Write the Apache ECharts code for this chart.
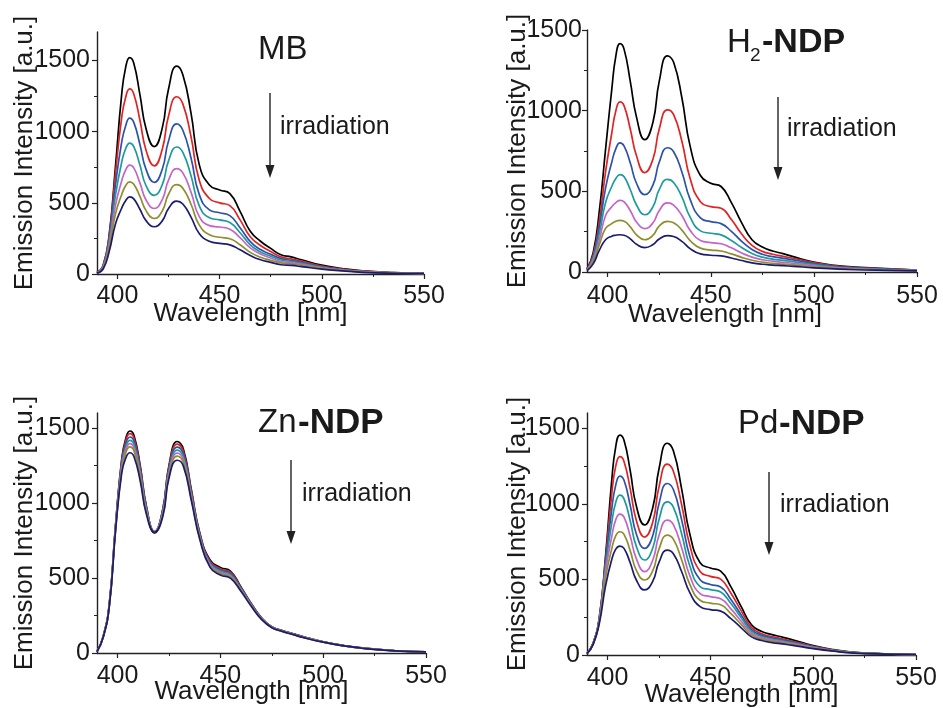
<!DOCTYPE html>
<html><head><meta charset="utf-8">
<script src="https://cdn.jsdelivr.net/npm/echarts@6/dist/echarts.min.js"></script>
<style>html,body{margin:0;padding:0;background:#fff}#c{width:943px;height:708px}</style>
</head><body><div id="c"></div><script>
// ---- data ----
const wavelength = [390,393,396,399,402,404,406,408,411,414,418,422,425,429,432,436,440,445,450,455,460,465,470,475,480,485,490,500,510,520,535,550];
const xTicks = [400,450,500,550];
const xMinorTicks = [425,475,525];
const yTicks = [0,500,1000,1500];
const yMinorTicks = [250,750,1250];
const curveNames = ['0','1','2','3','4','5','6'];

// MB
const mbBlack   = [10,60,280,750,1250,1450,1520,1480,1260,1020,895,1030,1300,1460,1400,1130,770,625,590,565,440,300,230,180,135,120,100,62,38,22,10,4];
const mbRed     = [10,60,270,700,1090,1240,1300,1265,1080,870,760,880,1110,1245,1195,965,660,530,500,480,380,262,200,158,120,106,90,56,34,20,9,4];
const mbBlue    = [9,55,250,620,920,1040,1095,1065,910,735,643,740,935,1055,1010,815,560,450,430,410,325,228,172,138,108,96,82,51,31,18,8,3];
const mbTeal    = [8,50,230,550,780,880,920,895,765,620,553,630,795,892,855,690,480,395,380,362,290,205,155,125,98,88,75,47,29,17,8,3];
const mbMagenta = [8,45,210,480,650,730,765,745,640,520,460,525,660,740,710,575,405,340,330,315,255,183,140,112,88,80,68,44,27,16,7,3];
const mbOlive   = [7,40,190,420,555,620,647,630,545,445,390,445,560,628,603,490,345,275,258,248,205,152,118,96,78,71,61,40,25,14,6,2];
const mbNavy    = [6,35,160,350,460,515,542,528,455,375,332,375,460,512,492,400,285,230,215,205,170,130,100,82,65,60,52,34,22,12,5,2];

// H2-NDP
const h2Black   = [20,120,380,760,1130,1340,1415,1380,1180,960,820,930,1180,1340,1300,1080,780,598,550,530,430,305,200,155,130,114,95,62,41,31,21,12];
const h2Red     = [18,105,320,620,860,1000,1055,1030,885,720,616,700,885,1005,975,810,580,435,405,395,325,235,165,128,110,97,85,58,38,28,19,12];
const h2Blue    = [16,95,280,520,680,765,800,780,675,550,479,540,680,770,745,620,450,335,312,300,252,190,140,110,95,85,75,52,35,26,18,11];
const h2Teal    = [14,85,240,430,530,580,603,590,510,415,355,405,510,574,555,465,340,255,240,230,195,152,115,92,80,72,64,46,31,23,16,10];
const h2Magenta = [12,75,200,350,405,430,444,435,380,310,269,305,380,428,415,350,258,195,182,175,150,118,92,76,67,60,54,39,27,20,14,9];
const h2Olive   = [10,65,170,270,300,315,320,315,280,230,200,228,285,314,305,260,195,148,136,130,112,91,73,61,54,49,44,32,23,17,12,8];
const h2Navy    = [8,50,135,200,222,228,231,228,205,172,151,170,205,225,220,190,145,112,104,100,87,71,57,48,43,39,35,26,19,14,10,7];

// Zn-NDP
const znBlack   = [10,110,330,850,1290,1430,1480,1450,1250,980,800,960,1250,1410,1360,1080,800,620,570,545,440,330,235,175,150,130,110,75,50,32,15,7];
const znRed     = [10,110,330,845,1280,1415,1462,1432,1238,975,805,955,1240,1392,1344,1070,795,612,562,537,436,328,234,174,149,129,109,75,50,32,15,7];
const znBlue    = [10,108,325,840,1265,1395,1440,1412,1222,968,808,948,1226,1372,1326,1058,788,604,554,529,432,325,232,173,148,128,108,74,49,31,15,7];
const znTeal    = [10,107,322,832,1248,1375,1418,1390,1205,958,810,940,1212,1352,1308,1046,781,596,546,521,427,322,230,172,147,127,107,74,49,31,15,7];
const znMagenta = [10,106,318,825,1232,1355,1396,1368,1188,948,812,932,1198,1332,1290,1034,774,588,538,513,422,319,228,171,146,126,106,73,48,31,15,7];
const znOlive   = [9,105,315,818,1215,1335,1374,1346,1170,938,810,922,1183,1312,1271,1022,766,580,530,505,417,316,226,170,145,125,105,73,48,30,14,7];
const znNavy    = [9,104,312,810,1198,1300,1335,1308,1148,926,805,910,1166,1285,1246,1008,757,571,520,497,411,312,224,169,144,124,104,72,48,30,14,7];

// Pd-NDP
const pdBlack   = [10,80,250,650,1150,1380,1454,1420,1220,985,860,975,1230,1400,1350,1100,800,610,575,555,450,320,200,155,135,118,100,62,35,18,8,3];
const pdRed     = [10,78,245,630,1060,1250,1311,1280,1100,890,780,880,1110,1262,1215,995,725,552,520,502,408,292,183,140,122,107,91,58,33,17,8,3];
const pdBlue    = [10,76,240,605,960,1125,1183,1155,990,800,705,790,1000,1134,1094,895,652,497,466,450,367,265,168,130,113,99,85,55,31,16,7,3];
const pdTeal    = [10,75,235,580,870,1010,1057,1032,888,718,628,708,895,1013,978,802,588,452,432,416,340,246,158,122,106,93,80,52,30,16,7,3];
const pdMagenta = [9,73,228,550,780,895,932,912,787,637,551,628,790,892,862,710,525,406,386,372,305,223,145,113,99,87,75,49,28,15,7,3];
const pdOlive   = [9,72,220,510,700,790,815,798,690,560,496,558,700,793,766,630,467,362,343,332,273,202,133,105,92,81,70,46,27,14,6,3];
const pdNavy    = [9,70,210,455,630,700,720,705,610,496,430,488,612,694,670,552,412,320,300,290,240,180,120,96,82,73,64,42,25,13,6,3];

const panelSeries = [
  [mbBlack, mbRed, mbBlue, mbTeal, mbMagenta, mbOlive, mbNavy],
  [h2Black, h2Red, h2Blue, h2Teal, h2Magenta, h2Olive, h2Navy],
  [znBlack, znRed, znBlue, znTeal, znMagenta, znOlive, znNavy],
  [pdBlack, pdRed, pdBlue, pdTeal, pdMagenta, pdOlive, pdNavy]
];
const yMax = [1700, 1500, 1600, 1600];

// ---- style / layout ----
const colors = ['#000000','#e02424','#2d52aa','#1e9a9c','#c464c8','#8e8e2c','#1c1c6e'];
const FONT = '"Liberation Sans", Arial, Helvetica, sans-serif';
const TXT = '#1a1a1a';
const AX = '#222';
const rects = [
  {left:97, top:32, width:327, height:242, xGap:27, xShift:10, yGap:59, yMargin:7, xMargin:10},
  {left:587, top:30, width:330, height:242, xGap:30, xShift:27, yGap:56, yMargin:5, xMargin:12},
  {left:97, top:413, width:329, height:240, xGap:26, xShift:10, yGap:59, yMargin:7, xMargin:11},
  {left:587, top:413, width:329, height:242, xGap:27, xShift:10, yGap:56, yMargin:7, xMargin:11}
];
const plain = v => String(v);

const grid = [], xAxis = [], yAxis = [], series = [];
rects.forEach(r => grid.push({left:r.left, top:r.top, width:r.width, height:r.height, containLabel:false, outerBoundsMode:'none'}));
rects.forEach(r => grid.push({left:r.left, top:r.top, width:r.width, height:r.height, containLabel:false, outerBoundsMode:'none'}));
rects.forEach((r, i) => {
  xAxis.push({
    type:'value', gridIndex:i, min:390, max:550,
    axisLine:{show:true, onZero:false, lineStyle:{color:AX, width:1.4}},
    axisTick:{show:true, customValues:xTicks, length:5, lineStyle:{color:AX, width:1.2}},
    axisLabel:{show:true, customValues:xTicks, formatter:plain, margin:r.xMargin, fontSize:25, color:TXT, fontFamily:FONT},
    splitLine:{show:false},
    name:'Wavelength [nm]', nameLocation:'middle', nameGap:r.xGap, nameMoveOverlap:false,
    nameTextStyle:{fontSize:26, color:TXT, fontFamily:FONT, padding:[0, r.xShift*2, 0, 0]}
  });
  yAxis.push({
    type:'value', gridIndex:i, min:0, max:yMax[i],
    axisLine:{show:true, onZero:false, lineStyle:{color:AX, width:1.4}},
    axisTick:{show:true, customValues:yTicks, length:5, lineStyle:{color:AX, width:1.2}},
    axisLabel:{show:true, customValues:yTicks, formatter:plain, margin:r.yMargin, fontSize:25, color:TXT, fontFamily:FONT},
    splitLine:{show:false},
    name:'Emission Intensity [a.u.]', nameLocation:'middle', nameGap:r.yGap, nameMoveOverlap:false,
    nameTextStyle:{fontSize:26, color:TXT, fontFamily:FONT}
  });
});
rects.forEach((r, i) => {
  xAxis.push({
    type:'value', gridIndex:i+4, min:390, max:550,
    axisLine:{show:false}, axisLabel:{show:false}, splitLine:{show:false},
    axisTick:{show:true, customValues:xMinorTicks, length:3, lineStyle:{color:AX, width:1}}
  });
  yAxis.push({
    type:'value', gridIndex:i+4, min:0, max:yMax[i],
    axisLine:{show:false}, axisLabel:{show:false}, splitLine:{show:false},
    axisTick:{show:true, customValues:yMinorTicks, length:3, lineStyle:{color:AX, width:1}}
  });
});

panelSeries.forEach((curves, p) => {
  curves.forEach((vals, k) => {
    series.push({
      type:'line', name:curveNames[k], xAxisIndex:p, yAxisIndex:p,
      data: wavelength.map((w, j) => [w, vals[j]]),
      smooth:0.5, symbol:'none', silent:true,
      lineStyle:{color:colors[k], width:1.7}, itemStyle:{color:colors[k]},
      z: 2 + k
    });
  });
});

// ---- annotations ----
function txt(x, y, text, size, weight) {
  return {type:'text', x:x, y:y, style:{text:text, fontSize:size, fontWeight:weight||'normal', fill:TXT, fontFamily:FONT, align:'left', verticalAlign:'middle'}};
}
function arrow(x, y1, y2) {
  return {type:'group', children:[
    {type:'line', shape:{x1:x, y1:y1, x2:x, y2:y2-8}, style:{stroke:'#222', lineWidth:1.4}},
    {type:'polygon', shape:{points:[[x-4.5, y2-13],[x+4.5, y2-13],[x, y2]]}, style:{fill:'#222'}}
  ]};
}
const graphic = [
  txt(258, 50, 'MB', 33),
  txt(727, 43, 'H', 33), txt(750, 56, '2', 19), txt(762, 43, '-NDP', 34, 'bold'),
  txt(258, 423, 'Zn', 33), txt(298, 423, '-NDP', 35, 'bold'),
  txt(738, 424, 'Pd', 33), txt(779, 424, '-NDP', 35, 'bold'),
  txt(280, 127, 'irradiation', 25), txt(787, 129, 'irradiation', 25),
  txt(302, 494, 'irradiation', 25), txt(780, 505, 'irradiation', 25),
  arrow(270, 93, 178), arrow(778, 97, 180), arrow(291, 460, 544), arrow(769, 472, 555)
];

const chart = echarts.init(document.getElementById('c'), null, {renderer:'canvas'});
chart.setOption({
  animation:false, backgroundColor:'#ffffff',
  grid, xAxis, yAxis, series, graphic,
  tooltip:{show:false}, legend:{show:false}
});
</script></body></html>
